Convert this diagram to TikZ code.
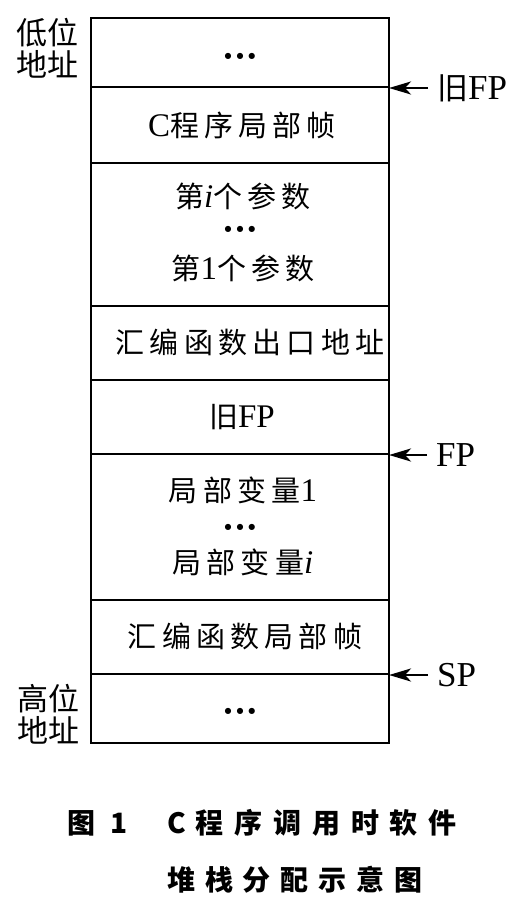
\documentclass[tikz,border=0pt]{standalone}
\usepackage{fontspec}
\setmainfont{Liberation Serif}
\newfontfamily\cjk{Noto Sans CJK SC}[LetterSpace=18]
\newfontfamily\cjkn{Noto Sans CJK SC}
\newfontfamily\dv{DejaVu Sans}
\usetikzlibrary{arrows.meta}
\newcommand\zh[1]{{\cjk\fontsize{29}{29}\selectfont #1}}
\newcommand\mydots{{\dv\fontsize{8}{8}\selectfont ●\hspace{5pt}●\hspace{5pt}●}}
\newcommand\hs[1]{\hspace{#1pt}}
\tikzset{
  cell/.style={draw, line width=2.9pt, minimum width=298pt, inner sep=0pt, outer sep=0pt, anchor=north},
  txt/.style={inner sep=0pt, font=\fontsize{33}{33}\selectfont},
  side/.style={inner sep=0pt, anchor=west, align=left, font=\cjkn\fontsize{31}{32}\selectfont},
  ptr/.style={inner sep=0pt, anchor=west, font=\fontsize{35}{35}\selectfont},
  arr/.style={line width=2.6pt, -{Stealth[length=22pt,width=13pt,inset=6pt]}, shorten <=9pt},
  captxt/.style={inner sep=0pt, anchor=west, font=\cjkn\bfseries\fontsize{28}{28}\selectfont}
}
\begin{document}
\begin{tikzpicture}[x=1pt,y=-1pt]
\useasboundingbox (0,0) rectangle (520,911);
% stack cells
\node[cell, minimum height=69pt]  (c1) at (240,18)  {};
\node[cell, minimum height=76pt]  (c2) at (240,87)  {};
\node[cell, minimum height=143pt] (c3) at (240,163) {};
\node[cell, minimum height=74pt]  (c4) at (240,306) {};
\node[cell, minimum height=74pt]  (c5) at (240,380) {};
\node[cell, minimum height=146pt] (c6) at (240,454) {};
\node[cell, minimum height=74pt]  (c7) at (240,600) {};
\node[cell, minimum height=69pt]  (c8) at (240,674) {};
% cell texts
\node[txt] (t1)  at (240,56)  {\mydots};
\node[txt] (t2)  at (242,125) {C\zh{程序局部帧}};
\node[txt] (t3a) at (243,196) {\zh{第}\textit{i}\zh{个参数}};
\node[txt] (t3b) at (240,229) {\mydots};
\node[txt] (t3c) at (243,268) {\zh{第}1\zh{个参数}};
\node[txt] (t4)  at (250,342) {\zh{汇编函数出口地址}};
\node[txt] (t5)  at (242,417) {\zh{旧}FP};
\node[txt] (t6a) at (243,490) {\zh{局部变量}1};
\node[txt] (t6b) at (240,527) {\mydots};
\node[txt] (t6c) at (243,562) {\zh{局部变量}\textit{i}};
\node[txt] (t7)  at (245,636) {\zh{汇编函数局部帧}};
\node[txt] (t8)  at (240,711) {\mydots};
% side labels
\node[side] (low)  at (16,48.5) {低位\\地址};
\node[side] (high) at (17,714)  {高位\\地址};
% pointers
\node[ptr] (oldfp) at (437,88)  {{\cjkn\fontsize{31}{31}\selectfont 旧}FP};
\node[ptr] (fp)    at (436,455) {FP};
\node[ptr] (sp)    at (437,675) {SP};
\draw[arr] (oldfp.west) -- (oldfp.west -| c1.east);
\draw[arr] (fp.west) -- (fp.west -| c5.east);
\draw[arr] (sp.west) -- (sp.west -| c7.east);
% caption
\node[captxt] (cap1) at (67,823) {图\hs{15}1\hs{40}C\hs{10}程\hs{10.8}序\hs{10.8}调\hs{10.8}用\hs{10.8}时\hs{10.8}软\hs{10.8}件};
\node[captxt] (cap2) at (167,880) {堆\hs{9.8}栈\hs{9.8}分\hs{9.8}配\hs{9.8}示\hs{9.8}意\hs{9.8}图};
\end{tikzpicture}
\end{document}
